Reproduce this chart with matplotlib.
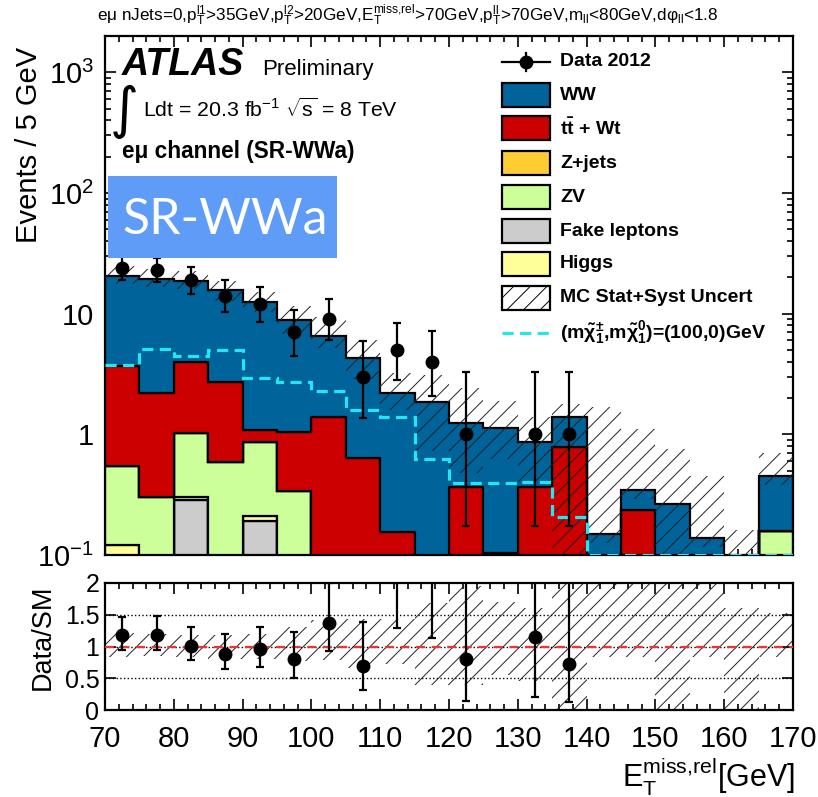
import numpy as np
import matplotlib.pyplot as plt
import matplotlib.ticker as ticker
from matplotlib.patches import Rectangle
from matplotlib.lines import Line2D

plt.rcParams['font.family'] = ['Liberation Sans', 'DejaVu Sans']
plt.rcParams['mathtext.fontset'] = 'custom'
plt.rcParams['mathtext.rm'] = 'Liberation Sans'
plt.rcParams['mathtext.it'] = 'Liberation Sans:italic'
plt.rcParams['mathtext.bf'] = 'Liberation Sans:bold'
plt.rcParams['mathtext.default'] = 'regular'
plt.rcParams['hatch.linewidth'] = 0.7

# binning: E_T^miss,rel from 70 to 170 GeV in 5 GeV bins
edges = np.arange(70, 171, 5)
centers = edges[:-1] + 2.5

# background components (events / bin)
ww = np.array([16.7, 17.2, 14.8, 13.1, 11.5, 7.75, 5.18, 3.66, 2.05, 1.85,
               0.875, 1.02, 0.505, 0.59, 0.149, 0.113, 0.265, 0.138, 0.0, 0.297])
ttbar = np.array([3.16, 1.92, 2.94, 2.12, 0.235, 0.715, 1.39, 0.634, 0.153, 0.0,
                  0.365, 0.0, 0.365, 0.79, 0.0, 0.233, 0.0, 0.0, 0.0, 0.0])
zjets = np.zeros(20)
zv = np.array([0.42, 0.30, 0.73, 0.594, 0.65, 0.335, 0.0, 0.0, 0.0, 0.0,
               0.0, 0.103, 0.0, 0.0, 0.0, 0.0, 0.0, 0.0, 0.0, 0.156])
fake = np.array([0.0, 0.0, 0.283, 0.0, 0.189, 0.0, 0.0, 0.0, 0.0, 0.0,
                 0.0, 0.0, 0.0, 0.0, 0.0, 0.0, 0.0, 0.0, 0.0, 0.0])
higgs = np.array([0.121, 0.0, 0.018, 0.0, 0.019, 0.0, 0.0, 0.0, 0.0, 0.0,
                  0.0, 0.0, 0.0, 0.0, 0.0, 0.0, 0.0, 0.0, 0.0, 0.0])

# MC stat+syst band
band_lo = np.array([17.5, 16.5, 16.0, 12.8, 10.3, 6.8, 5.2, 2.85, 1.6, 0.73,
                    0.48, 0.62, 0.39, 0.0, 0.125, 0.29, 0.0, 0.116, 0.0, 0.38])
band_hi = np.array([25.0, 23.5, 22.5, 18.7, 15.1, 11.5, 9.3, 6.1, 3.2, 3.1,
                    2.4, 1.9, 1.4, 1.8, 1.7, 1.1, 0.75, 0.45, 0.16, 0.70])
ratio_lo = np.array([0.84, 0.85, 0.84, 0.80, 0.80, 0.77, 0.78, 0.66, 0.72, 0.39,
                     0.39, 0.55, 0.45, 0.0, 0.84, 0.84, 0.0, 0.84, 0.0, 0.84])
ratio_hi = np.array([1.22, 1.2, 1.18, 1.18, 1.2, 1.3, 1.42, 1.43, 1.44, 1.68,
                     1.95, 1.7, 1.6, 2.5, 2.5, 2.5, 2.5, 2.5, 1.6, 1.52])

# signal point (m_chargino, m_neutralino) = (100, 0) GeV
signal = np.array([3.77, 5.13, 4.43, 5.02, 2.93, 2.71, 2.27, 1.60, 1.38, 0.62,
                   0.398, 0.395, 0.40, 0.208, 0.0, 0.0, 0.0, 0.0, 0.0, 0.0])

# data 2012 with Poisson (Garwood) errors
data = np.array([24, 23, 19, 14, 12, 7, 9, 3, 5, 4, 1, 0, 1, 1, 0, 0, 0, 0, 0, 0])
err_lo = np.array([4.864, 4.762, 4.321, 3.699, 3.415, 2.580, 2.943, 1.633, 2.159, 1.914,
                   0.827, 0.0, 0.827, 0.827, 0, 0, 0, 0, 0, 0])
err_hi = np.array([5.955, 5.855, 5.431, 4.830, 4.559, 3.770, 4.110, 2.918, 3.382, 3.162,
                   2.299, 0.0, 2.299, 2.299, 0, 0, 0, 0, 0, 0])

ytick_vals = [0.1, 1, 10, 100, 1000]
ytick_labels = ['$10^{-1}$', '1', '10', '$10^{2}$', '$10^{3}$']

W, H = 818, 797
fig = plt.figure(figsize=(W / 100, H / 100), dpi=100)


def fx(x):
    return x / W


def fy(y):
    return 1 - y / H


ax = fig.add_axes([fx(105), fy(555), fx(793) - fx(105), fy(36) - fy(555)])
rax = fig.add_axes([fx(105), fy(710), fx(793) - fx(105), fy(583) - fy(710)])

# stacked backgrounds, bottom to top
layers = [(fake, '#cccccc'), (higgs, '#ffff99'), (zv, '#ccff99'),
          (zjets, '#ffcc33'), (ttbar, '#cc0000'), (ww, '#00639a')]
floor = 1e-3
bottom = np.full(len(centers), floor)
for vals, col in layers:
    top = bottom + vals
    ax.stairs(top, edges, baseline=bottom, fill=True, facecolor=col,
              edgecolor='black', linewidth=1.6, zorder=2)
    bottom = top
total = bottom - floor

ax.stairs(band_hi, edges, baseline=np.maximum(band_lo, floor), fill=True,
          facecolor='none', edgecolor='#222222', linewidth=0, hatch='//', zorder=3)
ax.stairs(np.maximum(signal, 0.1), edges, baseline=None, color='#22e6f0', linewidth=2.3,
          linestyle=(0, (3.5, 2)), zorder=4)

has = data > 0
ax.errorbar(centers[has], data[has], yerr=[err_lo[has], err_hi[has]], fmt='o',
            color='black', markersize=9, elinewidth=1.6, capsize=3, capthick=1.6, zorder=5)

ax.set_yscale('log')
ax.set_xlim(70, 170)
ax.set_ylim(0.1, 2000)
ax.xaxis.set_major_locator(ticker.MultipleLocator(10))
ax.xaxis.set_minor_locator(ticker.MultipleLocator(2))
ax.yaxis.set_major_locator(ticker.FixedLocator(ytick_vals))
ax.yaxis.set_major_formatter(ticker.FixedFormatter(ytick_labels))
ax.yaxis.set_minor_locator(ticker.LogLocator(base=10, subs=np.arange(2, 10)))
ax.yaxis.set_minor_formatter(ticker.NullFormatter())
ax.tick_params(which='both', direction='in', top=True, right=True, width=1.2)
ax.tick_params(which='major', length=8, labelsize=21, pad=8)
ax.tick_params(which='minor', length=4.5)
ax.tick_params(axis='x', labelbottom=False)

# ratio panel
rax.stairs(ratio_hi, edges, baseline=ratio_lo, fill=True, facecolor='none',
           edgecolor='#222222', linewidth=0, hatch='//', zorder=2)
for lvl in (0.5, 1.0, 1.5):
    rax.axhline(lvl, color='black', linestyle=':', linewidth=1.0, zorder=1)
rax.axhline(1.0, color='#ee3333', linestyle=(0, (4, 3)), linewidth=1.6, zorder=3)

ok = (data > 0) & (total > 0)
ratio = data[ok] / total[ok]
rax.errorbar(centers[ok], ratio, yerr=[err_lo[ok] / total[ok], err_hi[ok] / total[ok]],
             fmt='o', color='black', markersize=9, elinewidth=1.6, capsize=3,
             capthick=1.6, zorder=5)

rax.set_xlim(70, 170)
rax.set_ylim(0, 2)
rax.xaxis.set_major_locator(ticker.MultipleLocator(10))
rax.xaxis.set_minor_locator(ticker.MultipleLocator(2))
rax.yaxis.set_major_locator(ticker.FixedLocator([0, 0.5, 1, 1.5, 2]))
rax.yaxis.set_major_formatter(ticker.FixedFormatter(['0', '0.5', '1', '1.5', '2']))
rax.tick_params(which='both', direction='in', top=True, right=True, width=1.2)
rax.tick_params(which='major', length=8)
rax.tick_params(which='minor', length=4.5)
rax.tick_params(axis='x', labelsize=21, pad=11)
rax.tick_params(axis='y', labelsize=18, pad=4)

for a in (ax, rax):
    for sp in a.spines.values():
        sp.set_linewidth(1.6)

# labels
fig.text(fx(29), fy(145), 'Events / 5 GeV', rotation=90, ha='center', va='center', fontsize=21)
fig.text(fx(43), fy(637), 'Data/SM', rotation=90, ha='center', va='center', fontsize=19.5)
fig.text(fx(795), fy(788), r'E$_T^{miss{,}rel}$[GeV]', ha='right', va='baseline', fontsize=22)
fig.text(fx(408), fy(21),
         r'eμ nJets=0,p$_T^{l1}$>35GeV,p$_T^{l2}$>20GeV,E$_T^{miss{,}rel}$>70GeV,'
         r'p$_T^{ll}$>70GeV,m$_{ll}$<80GeV,dφ$_{ll}$<1.8',
         ha='center', va='baseline', fontsize=12.3)

fig.text(fx(122), fy(75), 'ATLAS', fontsize=27, fontweight='bold', style='italic', va='baseline')
fig.text(fx(262), fy(75), 'Preliminary', fontsize=16, va='baseline')
fig.text(fx(110), fy(112), '∫', fontsize=40, va='center', ha='left', family='DejaVu Sans')
fig.text(fx(143), fy(117), r'Ldt = 20.3 fb$^{-1}$ $\sqrt{s}$ = 8 TeV', fontsize=15.3, va='baseline')
fig.text(fx(122), fy(158), 'eμ channel (SR-WWa)', fontsize=16.3, fontweight='bold', va='baseline')

fig.add_artist(Rectangle((fx(108), fy(258)), fx(337) - fx(108), fy(176) - fy(258),
                         transform=fig.transFigure, facecolor='#5e9cf8', edgecolor='none'))
fig.text(fx(122), fy(234), 'SR-WWa', fontsize=36, color='white', family='Lato', va='baseline')

# legend
leg_rows = [62, 95, 128, 163, 197, 231, 264, 298, 333]
leg_labels = ['Data 2012', 'WW', r't$\mathbf{\bar{t}}$ + Wt', 'Z+jets', 'ZV', 'Fake leptons',
              'Higgs', 'MC Stat+Syst Uncert',
              r'(m$\tilde{\chi}^{\pm}_{1}$,m$\tilde{\chi}^{0}_{1}$)=(100,0)GeV']
leg_fill = [None, '#00639a', '#cc0000', '#ffcc33', '#ccff99', '#cccccc', '#ffff99', 'hatch', None]
bx0, bx1 = 502, 550
for yc, lab, col in zip(leg_rows, leg_labels, leg_fill):
    if col == 'hatch':
        fig.add_artist(Rectangle((fx(bx0), fy(yc + 12)), fx(bx1) - fx(bx0), 24 / H,
                                 transform=fig.transFigure, facecolor='white',
                                 edgecolor='black', linewidth=1.6, hatch='//'))
    elif col is not None:
        fig.add_artist(Rectangle((fx(bx0), fy(yc + 12)), fx(bx1) - fx(bx0), 24 / H,
                                 transform=fig.transFigure, facecolor=col,
                                 edgecolor='black', linewidth=1.6))
    fig.text(fx(560), fy(yc), lab, fontsize=14, fontweight='bold', va='center')

fig.add_artist(Line2D([fx(bx0), fx(bx1)], [fy(62), fy(62)], transform=fig.transFigure,
                      color='black', linewidth=1.6))
fig.add_artist(Line2D([fx(526), fx(526)], [fy(53), fy(71)], transform=fig.transFigure,
                      color='black', linewidth=1.6))
fig.add_artist(Line2D([fx(526)], [fy(62)], transform=fig.transFigure, marker='o',
                      markersize=9, color='black'))
fig.add_artist(Line2D([fx(bx0), fx(bx1)], [fy(333), fy(333)], transform=fig.transFigure,
                      color='#22e6f0', linewidth=2.3, linestyle=(0, (3.5, 2))))

plt.savefig('out.png', dpi=100)
